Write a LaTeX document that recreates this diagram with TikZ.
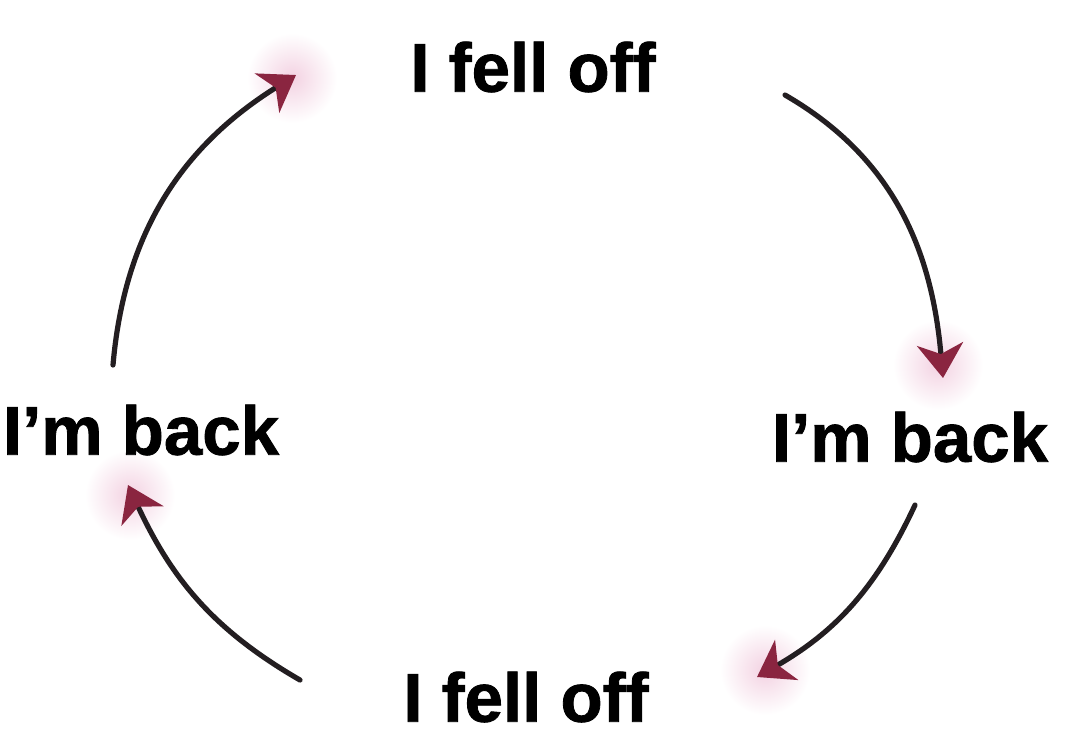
\documentclass[tikz,border=0pt]{standalone}
\usepackage{fontspec}
\setmainfont{Liberation Sans}[BoldFeatures={FakeBold=1.2}]
\usetikzlibrary{arrows.meta}
\definecolor{tipred}{HTML}{8A2540}
\definecolor{inkline}{HTML}{231E21}
\definecolor{glowpink}{HTML}{F3D2E2}
\tikzset{
  label/.style={font=\fontsize{34.5}{40}\selectfont\bfseries, text=black, inner sep=0pt},
  cyc/.style={draw=inkline, line width=2.6pt, line cap=round,
    -{Stealth[length=17pt, width=23pt, inset=5pt, color=tipred]}},
  glow/.style={inner color=glowpink, outer color=white, draw=none}
}
\begin{document}
\begin{tikzpicture}[x=0.5pt,y=0.5pt]
\useasboundingbox (0,0) rectangle (1068,-735);
\fill[white] (0,0) rectangle (1068,-735);
% glows
\shade[glow] (292,-78) circle (45);
\shade[glow] (938,-365) circle (45);
\shade[glow] (765,-670) circle (45);
\shade[glow] (130,-495) circle (45);
% labels
\node[label] (top) at (533,-67) {I fell off};
\node[label] (right) at (910,-437) {I’m back};
\node[label] (bottom) at (526,-697) {I fell off};
\node[label] (left) at (141,-430) {I’m back};
% arrow endpoints
\coordinate (a1s) at (113,-365);
\coordinate (a1e) at (296,-75);
\coordinate (a2s) at (785,-95);
\coordinate (a2e) at (943,-378);
\coordinate (a3s) at (915,-505);
\coordinate (a3e) at (757,-677);
\coordinate (a4s) at (300,-680);
\coordinate (a4e) at (128,-485);
\draw[cyc] (a1s) to[out=85, in=212] (a1e);
\draw[cyc] (a2s) to[out=-30, in=95] (a2e);
\draw[cyc] (a3s) to[out=-115, in=30] (a3e);
\draw[cyc] (a4s) to[out=150, in=-65] (a4e);
\end{tikzpicture}
\end{document}
